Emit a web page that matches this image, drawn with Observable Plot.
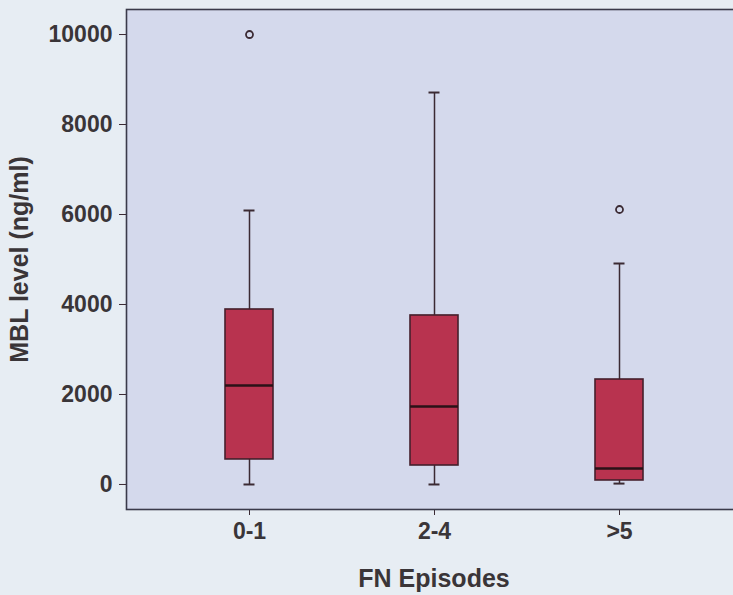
<!DOCTYPE html>
<html>
<head>
<meta charset="utf-8">
<script src="https://cdn.jsdelivr.net/npm/d3@7"></script>
<script src="https://cdn.jsdelivr.net/npm/@observablehq/plot@0.6"></script>
<style>
  html, body { margin: 0; padding: 0; background: #e7edf3; overflow: hidden; width: 733px; height: 595px; }
  #chart svg { display: block; max-width: none !important; }
</style>
</head>
<body>
<div id="chart"></div>
<script>
// Data
const categories = ["0-1", "2-4", ">5"];
const whiskerLow  = [0, 0, 20];
const q1          = [556, 422, 89];
const medians     = [2200, 1733, 356];
const q3          = [3889, 3756, 2333];
const whiskerHigh = [6089, 8711, 4911];
const outlierGroups = ["0-1", ">5"];
const outlierValues = [10000, 6111];
const yTicks = [0, 2000, 4000, 6000, 8000, 10000];

const boxes = categories.map((c, i) => ({
  group: c, low: whiskerLow[i], q1: q1[i], median: medians[i], q3: q3[i], high: whiskerHigh[i]
}));
const outliers = outlierGroups.map((g, i) => ({group: g, value: outlierValues[i]}));

const dark = "#3b2a33";
const font = "'Liberation Sans', Arial, sans-serif";

const chart = Plot.plot({
  width: 745,
  height: 595,
  marginLeft: 126,
  marginRight: 4,
  marginTop: 9,
  marginBottom: 86,
  style: {background: "transparent", fontFamily: font, color: "#2b2b2b"},
  x: {domain: categories, type: "band", paddingInner: 0.741, paddingOuter: 0.528},
  y: {domain: [-556, 10556]},
  marks: [
    Plot.frame({fill: "#d4d9ec"}),
    Plot.ruleX(boxes, {x: "group", y1: "low", y2: "high", stroke: dark, strokeWidth: 1.5}),
    Plot.tickY(boxes, {x: "group", y: "low", stroke: dark, strokeWidth: 2, insetLeft: 18.5, insetRight: 18.5}),
    Plot.tickY(boxes, {x: "group", y: "high", stroke: dark, strokeWidth: 2, insetLeft: 18.5, insetRight: 18.5}),
    Plot.barY(boxes, {x: "group", y1: "q1", y2: "q3", fill: "#b8334f", stroke: "#45202c", strokeWidth: 1.6}),
    Plot.tickY(boxes, {x: "group", y: "median", stroke: "#2a1217", strokeWidth: 2.6}),
    Plot.dot(outliers, {x: "group", y: "value", r: 3.5, stroke: dark, strokeWidth: 1.8, fill: "none"}),
    Plot.axisY({
      ticks: yTicks, tickFormat: d => String(d), tickSize: 7, tickPadding: 7,
      fontSize: 23, fontWeight: "bold", stroke: dark, fill: "#3a3538",
      label: "MBL level (ng/ml)", labelAnchor: "center", labelArrow: "none", labelOffset: 116
    }),
    Plot.axisX({
      tickSize: 6, tickPadding: 7, fontSize: 23, fontWeight: "bold", stroke: dark, fill: "#3a3538",
      label: "FN Episodes", labelAnchor: "center", labelArrow: "none", labelOffset: 77
    }),
    Plot.frame({stroke: "#3a3a4a", strokeWidth: 1.6})
  ]
});

// Make axis titles bold and larger
chart.querySelectorAll("g[aria-label='y-axis label'] text, g[aria-label='x-axis label'] text").forEach(t => {
  t.setAttribute("font-weight", "bold");
  t.setAttribute("font-size", "25");
});
document.getElementById("chart").appendChild(chart);
</script>
</body>
</html>
